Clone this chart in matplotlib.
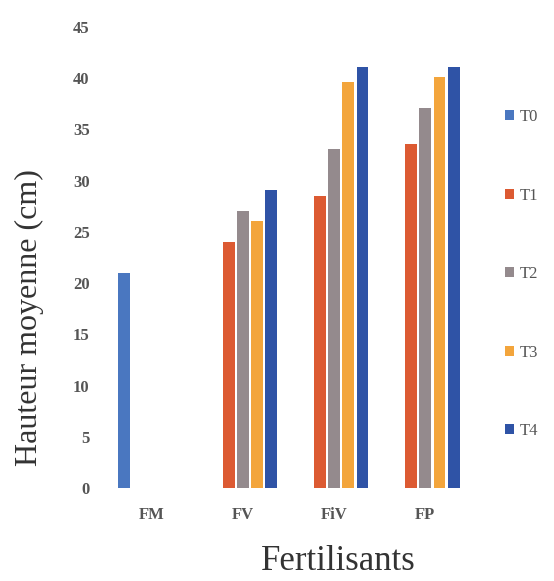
import numpy as np
import matplotlib
matplotlib.use("Agg")
import matplotlib.pyplot as plt

# Données
fertilisants = ["FM", "FV", "FiV", "FP"]
series = ["T0", "T1", "T2", "T3", "T4"]
T0 = [21.0, np.nan, np.nan, np.nan]
T1 = [np.nan, 24.0, 28.5, 33.6]
T2 = [np.nan, 27.0, 33.1, 37.1]
T3 = [np.nan, 26.1, 39.6, 40.1]
T4 = [np.nan, 29.1, 41.1, 41.1]
valeurs = [T0, T1, T2, T3, T4]
couleurs = ["#4A77C0", "#DC5A32", "#948A8D", "#F3A53C", "#2F53A6"]

plt.rcParams["font.family"] = ["Liberation Serif", "DejaVu Serif"]

fig = plt.figure(figsize=(5.54, 5.81), dpi=100)
ax = fig.add_axes([0.192, 0.160, 0.658, 0.7935])

x = np.arange(len(fertilisants))
pas = 0.155
largeur = 0.13
for i, (nom, v) in enumerate(zip(series, valeurs)):
    ax.bar(x + (i - 2) * pas, v, width=largeur, color=couleurs[i], label=nom)

ax.set_xlim(-0.5, 3.5)
ax.set_ylim(0, 45)
ax.set_yticks(np.arange(0, 46, 5))
ax.set_xticks(x)
ax.set_xticklabels(fertilisants)
for s in ax.spines.values():
    s.set_visible(False)
ax.tick_params(axis="both", length=0, labelsize=12, colors="#555555")
ax.tick_params(axis="y", pad=12)
ax.tick_params(axis="x", pad=14)
for t in ax.get_yticklabels() + ax.get_xticklabels():
    t.set_fontweight("bold")

ax.set_ylabel("Hauteur moyenne (cm)", fontsize=23, color="#333333")
ax.yaxis.set_label_coords(-0.172, 0.37)
ax.set_xlabel("Fertilisants", fontsize=25, color="#333333")
ax.xaxis.set_label_coords(0.635, -0.124)

leg = fig.legend(loc="upper left", bbox_to_anchor=(0.885, 0.838), frameon=False,
                 prop={"family": "Liberation Serif", "size": 12},
                 handlelength=0.55, handleheight=0.55,
                 handletextpad=0.3, labelspacing=3.75)
for t in leg.get_texts():
    t.set_color("#555555")

fig.savefig("out.png", dpi=100)
